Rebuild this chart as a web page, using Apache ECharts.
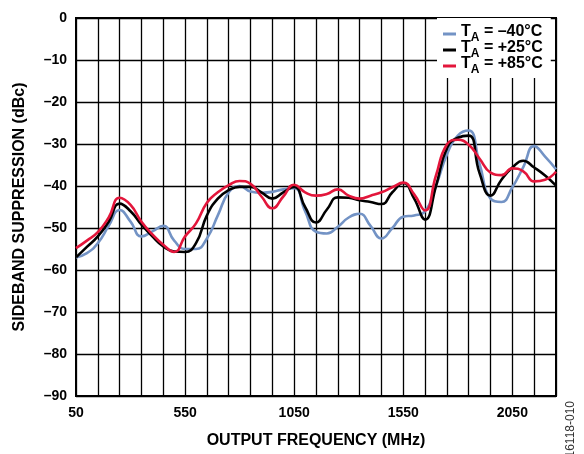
<!DOCTYPE html>
<html>
<head>
<meta charset="utf-8">
<script src="https://cdn.jsdelivr.net/npm/echarts@6/dist/echarts.min.js"></script>
<style>
html,body{margin:0;padding:0;background:#fff;}
#c{width:584px;height:454px;}
</style>
</head>
<body>
<div id="c"></div>
<script>
// Output frequency (MHz)
const freqMHz = [50,100,150,200,250,300,350,400,450,500,550,600,650,700,750,800,850,900,950,1000,1050,1100,1150,1200,1250,1300,1350,1400,1450,1500,1550,1600,1650,1700,1750,1800,1850,1900,1950,2000,2050,2100,2150,2200,2250];
// Sideband suppression (dBc)
const tMinus40 = [-57,-56,-53.6,-49.5,-45.7,-48.5,-52,-50.8,-49.5,-53,-55,-55,-52.5,-47,-41.5,-40,-41.3,-41.6,-41.4,-40.8,-40.5,-46,-50.9,-51.3,-49.7,-47.5,-46.6,-49.5,-52.5,-50,-47.3,-47,-46,-40,-32.5,-28,-26.8,-34.8,-43,-43.8,-40.3,-35.5,-30.5,-33,-36];
const tPlus25 = [-57,-54.5,-52,-48.5,-44.2,-46,-49.2,-52,-54.4,-55.6,-55.7,-53.6,-47,-43,-41,-40.2,-40.2,-41.5,-43,-41.5,-40.2,-45,-48.7,-45.6,-42.7,-42.8,-43.4,-43.8,-44.3,-41.5,-39.3,-43,-48,-40,-31,-28.5,-28,-37,-42.3,-38.5,-35.6,-34,-35.6,-37.5,-39.9];
const tPlus85 = [-54.8,-53,-51,-47.5,-42.8,-44.5,-48.5,-51.5,-54,-55.7,-52,-48.9,-44,-41.5,-39.8,-38.8,-39.5,-42.5,-45.3,-42.5,-39.7,-41.5,-42.3,-41.9,-40.8,-42.3,-43,-42.3,-41.5,-40.3,-39.2,-42,-45.8,-37.5,-30.1,-29,-30.2,-33.5,-36.8,-37.4,-35.8,-36.5,-38.9,-38.5,-36.6];
const seriesNames = ['–40°C','+25°C','+85°C'];
const xTickLabels = [50,550,1050,1550,2050];
const yTickLabels = [0,-10,-20,-30,-40,-50,-60,-70,-80,-90];

const colors = ['#7393c5','#000000','#e3163b'];
const FONT = 'Liberation Sans, Arial, sans-serif';

function pairs(ys){ return freqMHz.map((f,i)=>[f,ys[i]]); }

const chart = echarts.init(document.getElementById('c'), null, {renderer:'canvas'});
const allData = [tMinus40, tPlus25, tPlus85];
chart.setOption({
  animation:false,
  backgroundColor:'#ffffff',
  textStyle:{fontFamily:FONT},
  grid:{left:76,right:28,top:18,bottom:52,show:true,borderColor:'#000',borderWidth:2,backgroundColor:'transparent'},
  xAxis:{
    type:'value',min:50,max:2250,interval:100,
    axisLine:{show:true,lineStyle:{color:'#000',width:2}},
    axisTick:{show:false},
    splitLine:{show:true,lineStyle:{color:'#000',width:1.3}},
    axisLabel:{
      margin:10,color:'#000',fontSize:14,fontWeight:'bold',fontFamily:FONT,
      formatter:v=> xTickLabels.indexOf(v)>=0 ? String(v) : ''
    },
    name:'OUTPUT FREQUENCY (MHz)',nameLocation:'middle',nameGap:37,
    nameTextStyle:{color:'#000',fontSize:16,fontWeight:'bold',fontFamily:FONT}
  },
  yAxis:{
    type:'value',min:-90,max:0,interval:10,
    axisLine:{show:true,lineStyle:{color:'#000',width:2}},
    axisTick:{show:false},
    splitLine:{show:true,lineStyle:{color:'#000',width:1.3}},
    axisLabel:{
      margin:9,color:'#000',fontSize:14,fontWeight:'bold',fontFamily:FONT,
      formatter:v=> yTickLabels.indexOf(v)>=0 ? String(v).replace('-','–') : ''
    },
    name:'SIDEBAND SUPPRESSION (dBc)',nameLocation:'middle',nameGap:48,nameRotate:90,
    nameTextStyle:{color:'#000',fontSize:16,fontWeight:'bold',fontFamily:FONT}
  },
  legend:{
    orient:'vertical',left:437,top:18,
    padding:[6,8,2,6],itemGap:-4,
    backgroundColor:'#ffffff',
    icon:'rect',itemWidth:13,itemHeight:3,itemStyle:{borderWidth:0},
    data:seriesNames,
    formatter:name=>'{t|T}{s|A}{t| = '+name+'}',
    textStyle:{
      color:'#000',fontFamily:FONT,
      rich:{
        t:{fontSize:16,fontWeight:'bold',lineHeight:20,verticalAlign:'top',height:16,fontFamily:FONT,color:'#000'},
        s:{fontSize:12,fontWeight:'bold',lineHeight:12,verticalAlign:'bottom',fontFamily:FONT,color:'#000'}
      }
    }
  },
  series: seriesNames.map((n,i)=>({
    name:n,type:'line',data:pairs(allData[i]),
    smooth:0.5,symbol:'none',color:colors[i],
    lineStyle:{color:colors[i],width:2.6},
    z:2+i
  })),
  graphic:[{
    type:'text',left:565,top:401,rotation:Math.PI/2,
    style:{text:'16118-010',fontSize:12,fontFamily:FONT,fill:'#333'}
  }]
});
</script>
</body>
</html>
